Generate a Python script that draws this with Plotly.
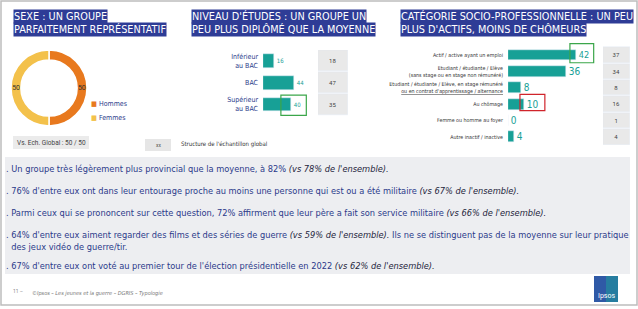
import plotly.graph_objects as go

W, H = 638, 309
def px(x): return x / W
def py(y): return 1 - y / H

NARROW = "Liberation Sans Narrow, DejaVu Sans Condensed, Roboto, sans-serif"
BLUE = "#2E3C96"
TEAL = "#17A096"
TXT = "#2B3A8A"

# ---------------- data ----------------
sexe_labels = ["Hommes", "Femmes"]
sexe_values = [50, 50]
sexe_colors = ["#E8791E", "#F3C14B"]

etudes_labels = ["Inférieur<br>au BAC", "BAC", "Supérieur<br>au BAC"]
etudes_values = [16, 44, 40]
etudes_global = [18, 47, 35]

csp_labels = [
    "Actif / active ayant un emploi",
    "Etudiant / étudiante / Elève<br>(sans stage ou en stage non rémunéré)",
    "Etudiant / étudiante / Elève, en stage rémunéré<br><u>ou en contrat d'apprentissage / alternance</u>",
    "Au chômage",
    "Femme ou homme au foyer",
    "Autre inactif / inactive",
]
csp_values = [42, 36, 8, 10, 0, 4]
csp_global = [37, 34, 8, 16, 1, 4]

titles = [
    ["SEXE : UN GROUPE", "PARFAITEMENT REPRÉSENTATIF"],
    ["NIVEAU D'ÉTUDES : UN GROUPE UN", "PEU PLUS DIPLÔMÉ QUE LA MOYENNE"],
    ["CATÉGORIE SOCIO-PROFESSIONNELLE : UN PEU", "PLUS D'ACTIFS, MOINS DE CHÔMEURS"],
]

bullets = [
    ("Un groupe très légèrement plus provincial que la moyenne, à 82% ", "(vs 78% de l'ensemble).", ""),
    ("76% d'entre eux ont dans leur entourage proche au moins une personne qui est ou a été militaire ", "(vs 67% de l'ensemble).", ""),
    ("Parmi ceux qui se prononcent sur cette question, 72% affirment que leur père a fait son service militaire ", "(vs 66% de l'ensemble).", ""),
    ("64% d'entre eux aiment regarder des films et des séries de guerre ", "(vs 59% de l'ensemble).", " Ils ne se distinguent pas de la moyenne sur leur pratique<br>  des jeux vidéo de guerre/tir."),
    ("67% d'entre eux ont voté au premier tour de l'élection présidentielle en 2022 ", "(vs 62% de l'ensemble).", ""),
]
bullet_y = [168, 190, 212, 240, 265]

fig = go.Figure()

# ---------------- donut ----------------
fig.add_trace(go.Pie(
    labels=sexe_labels, values=sexe_values, hole=0.74, sort=False,
    direction="clockwise", rotation=0,
    marker=dict(colors=sexe_colors, line=dict(color="white", width=1.5)),
    textinfo="value", textposition="inside", insidetextorientation="horizontal",
    textfont=dict(size=7, color="#333", family="Roboto"),
    domain=dict(x=[px(11), px(87)], y=[py(126), py(50)]),
    showlegend=False,
))

# ---------------- education ----------------
fig.add_trace(go.Bar(
    x=etudes_values, y=etudes_labels, orientation="h", xaxis="x2", yaxis="y2",
    marker_color=TEAL, width=0.64, text=etudes_values, textposition="outside",
    textfont=dict(size=6, color=TEAL, family=NARROW), cliponaxis=False, showlegend=False,
))
fig.add_trace(go.Bar(
    x=[1] * len(etudes_global), y=etudes_labels, orientation="h", xaxis="x3", yaxis="y2",
    marker_color="#E9E9E9", width=0.96, text=etudes_global, textposition="inside",
    insidetextanchor="middle", textfont=dict(size=6, color="#444", family="Roboto"),
    showlegend=False,
))

# ---------------- CSP ----------------
fig.add_trace(go.Bar(
    x=csp_values, y=csp_labels, orientation="h", xaxis="x4", yaxis="y4",
    marker_color=TEAL, width=0.66, text=csp_values, textposition="outside",
    textfont=dict(size=10, color=TEAL, family=NARROW), cliponaxis=False, showlegend=False,
))
fig.add_trace(go.Bar(
    x=[1] * len(csp_global), y=csp_labels, orientation="h", xaxis="x5", yaxis="y4",
    marker_color="#E9E9E9", width=0.94, text=csp_global, textposition="inside",
    insidetextanchor="middle", textfont=dict(size=6, color="#444", family="Roboto"),
    showlegend=False,
))

hidden_x = dict(showgrid=False, zeroline=False, showline=False, showticklabels=False, fixedrange=True)
fig.update_layout(
    width=W, height=H, autosize=False,
    margin=dict(l=0, r=0, t=0, b=0),
    paper_bgcolor="white", plot_bgcolor="rgba(0,0,0,0)",
    font=dict(family=NARROW, color=TXT),
    bargap=0,
    xaxis2=dict(domain=[px(263), px(334)], range=[0, 100], anchor="y2", **hidden_x),
    yaxis2=dict(domain=[py(116), py(50)], autorange="reversed", anchor="x2",
                showgrid=False, zeroline=False, showline=False, ticks="",
                tickfont=dict(size=7, color=TXT, family=NARROW), ticklabelstandoff=4),
    xaxis3=dict(domain=[px(318), px(348)], range=[0, 1], anchor="y2", **hidden_x),
    xaxis4=dict(domain=[px(508), px(605)], range=[0, 60], anchor="y4", **hidden_x),
    yaxis4=dict(domain=[py(145), py(43)], autorange="reversed", anchor="x4",
                showgrid=False, zeroline=False, showline=False, ticks="",
                tickfont=dict(size=5.3, color="#333", family=NARROW), ticklabelstandoff=4),
    xaxis5=dict(domain=[px(603), px(630)], range=[0, 1], anchor="y4", **hidden_x),
)

shapes = []
# outer frame
shapes.append(dict(type="rect", xref="paper", yref="paper", x0=px(1), x1=px(637), y0=py(305), y1=py(1),
                   line=dict(color="#BDBDBD", width=1.5), fillcolor="rgba(0,0,0,0)", layer="below"))
# bottom panel
shapes.append(dict(type="rect", xref="paper", yref="paper", x0=px(5), x1=px(630), y0=py(274), y1=py(157),
                   line=dict(width=0), fillcolor="#EDEEF1", layer="below"))
# vs global box
shapes.append(dict(type="rect", xref="paper", yref="paper", x0=px(13), x1=px(89), y0=py(149), y1=py(136),
                   line=dict(width=0), fillcolor="#EBEBEB", layer="below"))
# xx legend box
shapes.append(dict(type="rect", xref="paper", yref="paper", x0=px(145), x1=px(171), y0=py(151), y1=py(139),
                   line=dict(width=0), fillcolor="#E6E6E6", layer="below"))
# highlight boxes
i = 2
shapes.append(dict(type="rect", xref="x2", yref="y2", x0=etudes_values[i] * 0.63, x1=etudes_values[i] + 21,
                   y0=i - 0.43, y1=i + 0.5, line=dict(color="#3BA64A", width=1.2)))
i = 0
shapes.append(dict(type="rect", xref="x4", yref="y4", x0=csp_values[i] - 3.7, x1=csp_values[i] + 11,
                   y0=i - 0.7, y1=i + 0.47, line=dict(color="#3BA64A", width=1.2)))
i = 3
shapes.append(dict(type="rect", xref="x4", yref="y4", x0=csp_values[i] - 2.6, x1=csp_values[i] + 12.8,
                   y0=i - 0.6, y1=i + 0.4, line=dict(color="#D0242B", width=1.2)))
# ipsos logo
shapes.append(dict(type="rect", xref="paper", yref="paper", x0=px(594), x1=px(618), y0=py(302), y1=py(276),
                   line=dict(width=0), fillcolor="#2F59A6"))
shapes.append(dict(type="rect", xref="paper", yref="paper", x0=px(606), x1=px(618), y0=py(302), y1=py(276),
                   line=dict(width=0), fillcolor="#1F9A9A", opacity=0.55))

anns = []
# titles
title_x = [13, 191, 400]
for tx, lines in zip(title_x, titles):
    for k, line in enumerate(lines):
        anns.append(dict(x=px(tx), y=py(9 + 13.5 * k), xref="paper", yref="paper", xanchor="left", yanchor="top",
                         text=line, showarrow=False, bgcolor=BLUE, borderpad=0,
                         font=dict(size=10.8, color="white", family=NARROW)))
# donut legend
for k, (lab, col) in enumerate(zip(sexe_labels, sexe_colors)):
    anns.append(dict(x=px(89), y=py(104 + 14 * k), xref="paper", yref="paper", xanchor="left", yanchor="middle",
                     text=f"<span style='color:{col}'>■</span> {lab}", showarrow=False,
                     font=dict(size=7, color=TXT, family=NARROW)))
anns.append(dict(x=px(51), y=py(142.5), xref="paper", yref="paper", xanchor="center", yanchor="middle",
                 text=f"Vs. Ech. Global : {sexe_values[0]} / {sexe_values[1]}", showarrow=False,
                 font=dict(size=6.5, color="#444", family="Roboto")))
anns.append(dict(x=px(158), y=py(145), xref="paper", yref="paper", xanchor="center", yanchor="middle",
                 text="xx", showarrow=False, font=dict(size=5, color="#555", family="Roboto")))
anns.append(dict(x=px(179), y=py(144), xref="paper", yref="paper", xanchor="left", yanchor="middle",
                 text="Structure de l'échantillon global", showarrow=False,
                 font=dict(size=6, color="#333", family=NARROW)))
# bullets
for (a, b, c), yy in zip(bullets, bullet_y):
    anns.append(dict(x=px(4), y=py(yy), xref="paper", yref="paper", xanchor="left", yanchor="middle",
                     align="left", showarrow=False,
                     text=f". {a}<span style='color:#1E1E3C'><i>{b}</i></span>{c}",
                     font=dict(size=9.2, color=TXT, family=NARROW)))
# footer
anns.append(dict(x=px(11), y=py(291), xref="paper", yref="paper", xanchor="left", yanchor="middle",
                 text="11 –", showarrow=False, font=dict(size=5, color="#888", family="Roboto")))
anns.append(dict(x=px(30), y=py(293), xref="paper", yref="paper", xanchor="left", yanchor="middle",
                 text="<i>©Ipsos – Les jeunes et la guerre – DGRIS – Typologie</i>", showarrow=False,
                 font=dict(size=5.5, color="#777", family=NARROW)))
anns.append(dict(x=px(606), y=py(296), xref="paper", yref="paper", xanchor="center", yanchor="middle",
                 text="Ipsos", showarrow=False, font=dict(size=7, color="white", family="Roboto")))

fig.update_layout(shapes=shapes, annotations=anns)
fig.write_html("out.html")
